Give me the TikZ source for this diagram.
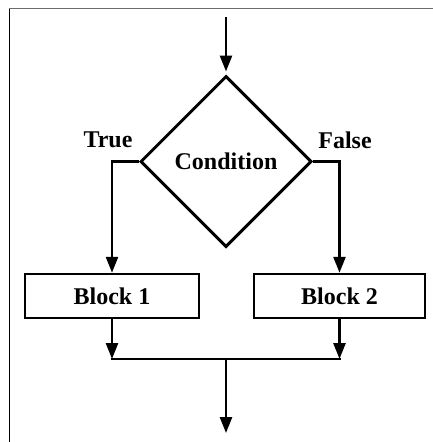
\documentclass[tikz,border=0pt]{standalone}
\usepackage{fontspec}
\setmainfont{Liberation Serif}
\usetikzlibrary{shapes.geometric,arrows.meta}
\begin{document}
\begin{tikzpicture}[x=1pt,y=-1pt,
  flow/.style={line width=2.6pt,-{Triangle[width=12pt,length=16pt]}},
  plain/.style={line width=2.6pt},
  txt/.style={font=\fontsize{24}{28}\selectfont\bfseries},
  lbl/.style={txt,inner sep=0pt},
  decision/.style={diamond,draw,line width=3pt,minimum width=171pt,minimum height=171pt,inner sep=0pt,txt},
  block/.style={rectangle,draw,line width=2.5pt,minimum height=44pt,inner sep=0pt,txt}]
  \useasboundingbox (0,0) rectangle (433,442);
  % frame
  \draw[gray!85!black,line width=1.6pt] (9,8.5) -- (433,8.5);
  \draw[black,line width=1.6pt] (9.5,9) -- (9.5,442);

  \coordinate (in) at (226,17);
  \node[decision] (cond) at (226,161.5) {Condition};
  \node[block,minimum width=174pt] (b1) at (112,296) {Block 1};
  \node[block,minimum width=171pt] (b2) at (339.5,296) {Block 2};
  \node[lbl] (t) at (108,140) {True};
  \node[lbl] (f) at (345,140) {False};
  \coordinate (join) at (226,359);
  \coordinate (out) at (226,433);

  \draw[flow] (in) -- ([yshift=3pt]cond.north);
  \draw[flow] (cond.west) -| (b1.north);
  \draw[flow] (cond.east) -| (b2.north);
  \draw[flow] (b1.south) -- (b1.south |- join);
  \draw[flow] (b2.south) -- (b2.south |- join);
  \draw[plain,line cap=rect] (b1.south |- join) -- (b2.south |- join);
  \draw[flow] (join) -- (out);
\end{tikzpicture}
\end{document}
